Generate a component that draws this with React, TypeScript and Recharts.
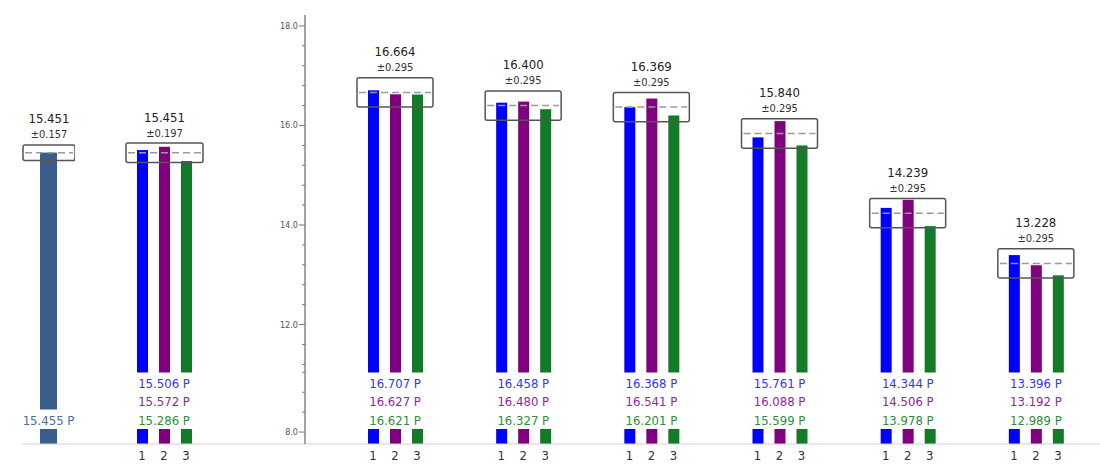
import React from "react";
import { BarChart, Bar, XAxis, YAxis } from "recharts";

// totals panel (single bar)
const totalValue = [15.455];
const totalMean = [15.451];
const totalErr = [0.157];

// pooled panel (three runs)
const pooledRun1 = [15.506];
const pooledRun2 = [15.572];
const pooledRun3 = [15.286];
const pooledMean = [15.451];
const pooledErr = [0.197];

// per-sample panel
const samples = ["S1", "S2", "S3", "S4", "S5", "S6"];
const run1 = [16.707, 16.458, 16.368, 15.761, 14.344, 13.396];
const run2 = [16.627, 16.48, 16.541, 16.088, 14.506, 13.192];
const run3 = [16.621, 16.327, 16.201, 15.599, 13.978, 12.989];
const sampleMean = [16.664, 16.4, 16.369, 15.84, 14.239, 13.228];
const sampleErr = [0.295, 0.295, 0.295, 0.295, 0.295, 0.295];

const runLabels = ["1", "2", "3"];
const majorTicks = [8, 12, 14, 16, 18];
const minorTicks = [8.4, 8.8, 9.2, 11.2, 11.6, 12.4, 12.8, 13.2, 13.6, 14.4, 14.8, 15.2, 15.6, 16.4, 16.8, 17.2, 17.6];

// broken value axis: everything below BREAK_AT is drawn BREAK_SHIFT higher
const BREAK_AT = 10;
const BREAK_SHIFT = 1.84;
const toAxis = (v: number) => (v < BREAK_AT ? v + BREAK_SHIFT : v);
const fromAxis = (v: number) => (v < BREAK_AT + BREAK_SHIFT - 0.5 ? v - BREAK_SHIFT : v);
const Y_DOMAIN: [number, number] = [9.6, 18.22];

const H = 464;
const MARGIN = { top: 15, right: 0, bottom: 0, left: 0 };
const X_AXIS_H = 20;
const PLOT_BOTTOM = H - MARGIN.bottom - X_AXIS_H;
const Y_AXIS_W = 50;
const ROW_H = 18.5;
const STUB_H = 15;
const BAR_W = 11;
const BAR_GAP = 11;
const BAR_PITCH = BAR_W + BAR_GAP;

const BLUE = "#0000ff";
const PURPLE = "#800080";
const GREEN = "#137a28";
const STEEL = "#3a5e8c";
const runText = ["#3434f4", "#8e2a8e", "#2f8c3a"];
const FONT = "'Liberation Sans Narrow', 'DejaVu Sans Condensed', Roboto, sans-serif";

const totalData = totalValue.map((v, i) => ({ name: "T", v, mean: totalMean[i], err: totalErr[i] }));
const pooledData = pooledRun1.map((v, i) => ({
  name: "P",
  r1: v,
  r2: pooledRun2[i],
  r3: pooledRun3[i],
  mean: pooledMean[i],
  err: pooledErr[i],
}));
const sampleData = samples.map((s, i) => ({
  name: s,
  r1: run1[i],
  r2: run2[i],
  r3: run3[i],
  mean: sampleMean[i],
  err: sampleErr[i],
}));

const boxRange = (d: any) => [d.mean - d.err, d.mean + d.err];

function BrokenBar(props: any) {
  const { x, y, width, height, fill, rows } = props;
  const bottom = y + height;
  const mainEnd = bottom - STUB_H - 1 - rows * ROW_H;
  return (
    <g>
      {mainEnd > y && <rect x={x} y={y} width={width} height={mainEnd - y} fill={fill} />}
      <rect x={x} y={bottom - STUB_H} width={width} height={STUB_H} fill={fill} />
    </g>
  );
}

function MeanBox(props: any) {
  const { x, y, width, height, payload } = props;
  const mid = y + height / 2;
  const cx = x + width / 2;
  return (
    <g>
      <line x1={x + 2} x2={x + width - 2} y1={mid} y2={mid} stroke="#9a9a9a" strokeWidth={1.5} strokeDasharray="7 4" />
      <rect x={x} y={y} width={width} height={height} rx={2} fill="none" stroke="#555" strokeWidth={1.5} />
      <text x={cx} y={y - 26} textAnchor="middle" dominantBaseline="central" fontSize={13} fill="#222">
        {payload.mean.toFixed(3)}
      </text>
      <text x={cx} y={y - 10} textAnchor="middle" dominantBaseline="central" fontSize={11} fill="#333">
        ±{payload.err.toFixed(3)}
      </text>
    </g>
  );
}

function GroupTick(props: any) {
  const { x, payload, rows, colors, numbered } = props;
  const i = payload.index;
  const n = rows.length;
  return (
    <g>
      {rows.map((vals: number[], k: number) => (
        <text
          key={k}
          x={x}
          y={PLOT_BOTTOM - 24 - (n - 1 - k) * ROW_H}
          textAnchor="middle"
          dominantBaseline="central"
          fontSize={13}
          fill={colors[k]}
        >
          {vals[i].toFixed(3)} P
        </text>
      ))}
      {numbered &&
        runLabels.map((lab, k) => (
          <text
            key={lab}
            x={x + (k - 1) * BAR_PITCH}
            y={PLOT_BOTTOM + 11}
            textAnchor="middle"
            dominantBaseline="central"
            fontSize={13}
            fill="#333"
          >
            {lab}
          </text>
        ))}
    </g>
  );
}

function ValueTick(props: any) {
  const { y, payload } = props;
  const real = Math.round(fromAxis(payload.value) * 10) / 10;
  const major = majorTicks.includes(real);
  return (
    <g>
      <line x1={Y_AXIS_W - (major ? 6 : 3)} x2={Y_AXIS_W} y1={y} y2={y} stroke="#777" strokeWidth={1} />
      {major && (
        <text x={Y_AXIS_W - 7} y={y} textAnchor="end" dominantBaseline="central" fontSize={9} fill="#555">
          {real.toFixed(1)}
        </text>
      )}
    </g>
  );
}

const axisLine = { stroke: "#d0d0d0", strokeWidth: 1 };

export default function App() {
  const yTicks = [...majorTicks, ...minorTicks].map(toAxis);
  return (
    <div style={{ position: "absolute", left: 0, top: 0, width: 1100, height: H, background: "#fff", fontFamily: FONT }}>
      <div style={{ position: "absolute", left: 22, top: 0 }}>
        <BarChart width={53} height={H} data={totalData} margin={MARGIN}>
          <XAxis
            dataKey="name"
            height={X_AXIS_H}
            tickLine={false}
            axisLine={axisLine}
            interval={0}
            tick={<GroupTick rows={[totalValue]} colors={["#4a6e9c"]} numbered={false} />}
          />
          <XAxis xAxisId="box" dataKey="name" hide />
          <YAxis hide type="number" domain={Y_DOMAIN} allowDataOverflow />
          <Bar dataKey="v" fill={STEEL} barSize={17} isAnimationActive={false} shape={(p: any) => <BrokenBar {...p} rows={1} />} />
          <Bar xAxisId="box" dataKey={boxRange} barSize={52} isAnimationActive={false} shape={(p: any) => <MeanBox {...p} />} />
        </BarChart>
      </div>

      <div style={{ position: "absolute", left: 75, top: 0 }}>
        <BarChart width={230} height={H} data={pooledData} margin={MARGIN} barGap={BAR_GAP}>
          <XAxis
            dataKey="name"
            height={X_AXIS_H}
            padding={{ left: 0, right: 52 }}
            tickLine={false}
            axisLine={axisLine}
            interval={0}
            tick={<GroupTick rows={[pooledRun1, pooledRun2, pooledRun3]} colors={runText} numbered />}
          />
          <XAxis xAxisId="box" dataKey="name" hide padding={{ left: 0, right: 52 }} />
          <YAxis hide type="number" domain={Y_DOMAIN} allowDataOverflow />
          <Bar dataKey="r1" fill={BLUE} barSize={BAR_W} isAnimationActive={false} shape={(p: any) => <BrokenBar {...p} rows={3} />} />
          <Bar dataKey="r2" fill={PURPLE} barSize={BAR_W} isAnimationActive={false} shape={(p: any) => <BrokenBar {...p} rows={3} />} />
          <Bar dataKey="r3" fill={GREEN} barSize={BAR_W} isAnimationActive={false} shape={(p: any) => <BrokenBar {...p} rows={3} />} />
          <Bar xAxisId="box" dataKey={boxRange} barSize={77} isAnimationActive={false} shape={(p: any) => <MeanBox {...p} />} />
        </BarChart>
      </div>

      <div style={{ position: "absolute", left: 305 - Y_AXIS_W, top: 0 }}>
        <BarChart width={845} height={H} data={sampleData} margin={MARGIN} barGap={BAR_GAP}>
          <XAxis
            dataKey="name"
            height={X_AXIS_H}
            padding={{ left: 26, right: 0 }}
            tickLine={false}
            axisLine={axisLine}
            interval={0}
            tick={<GroupTick rows={[run1, run2, run3]} colors={runText} numbered />}
          />
          <XAxis xAxisId="box" dataKey="name" hide padding={{ left: 26, right: 0 }} />
          <YAxis
            type="number"
            domain={Y_DOMAIN}
            allowDataOverflow
            ticks={yTicks}
            interval={0}
            width={Y_AXIS_W}
            tickLine={false}
            axisLine={{ stroke: "#858585", strokeWidth: 1.5 }}
            tick={<ValueTick />}
          />
          <Bar dataKey="r1" fill={BLUE} barSize={BAR_W} isAnimationActive={false} shape={(p: any) => <BrokenBar {...p} rows={3} />} />
          <Bar dataKey="r2" fill={PURPLE} barSize={BAR_W} isAnimationActive={false} shape={(p: any) => <BrokenBar {...p} rows={3} />} />
          <Bar dataKey="r3" fill={GREEN} barSize={BAR_W} isAnimationActive={false} shape={(p: any) => <BrokenBar {...p} rows={3} />} />
          <Bar xAxisId="box" dataKey={boxRange} barSize={76} isAnimationActive={false} shape={(p: any) => <MeanBox {...p} />} />
        </BarChart>
      </div>
    </div>
  );
}
